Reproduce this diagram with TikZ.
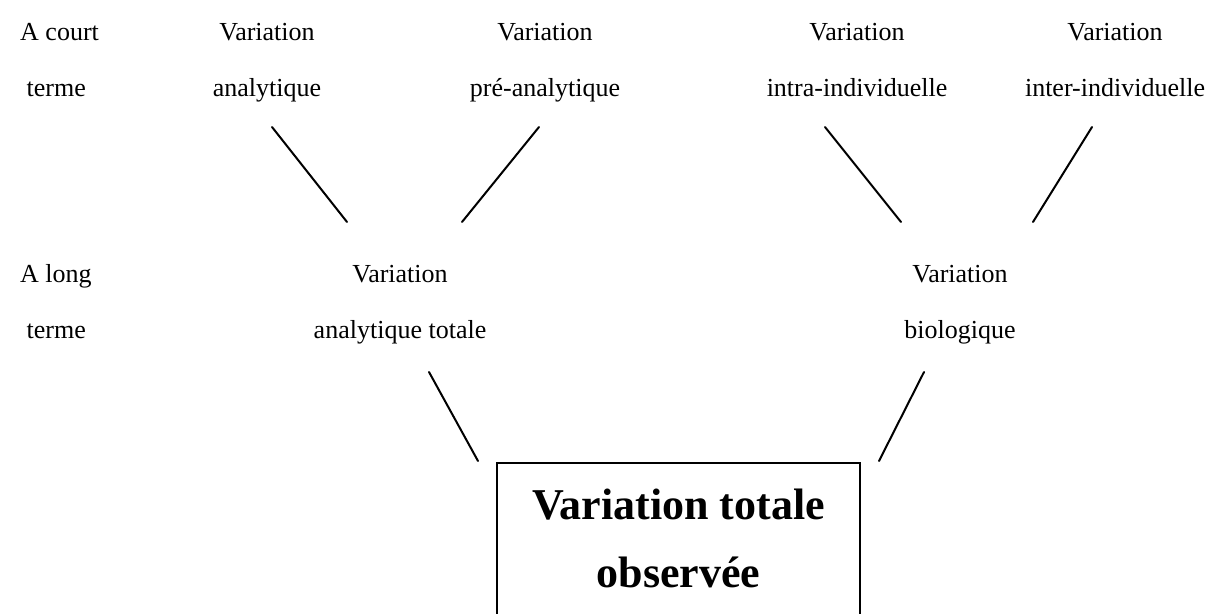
\documentclass[tikz,border=0pt]{standalone}
\usepackage{fontspec}
\setmainfont{Liberation Serif}
\begin{document}
\begin{tikzpicture}[x=1pt,y=-1pt,
  lab/.style={font=\fontsize{26}{56}\selectfont, align=center, inner sep=0pt, anchor=base},
  labl/.style={font=\fontsize{26}{56}\selectfont, align=left, inner sep=0pt, anchor=base west},
  big/.style={font=\fontsize{44}{68}\selectfont\bfseries, align=center, inner sep=0pt, anchor=base},
  conn/.style={line width=2pt, line cap=round},
  totbox/.style={draw, line width=1.5pt, minimum width=363pt, minimum height=180pt, anchor=north, inner sep=0pt}]
\useasboundingbox (0,0) rectangle (1220,613);
% row labels (anchor base = baseline of the last line)
\node[labl] (court) at (20,96) {A court\\\ terme};
\node[labl] (long) at (20,338) {A long\\\ terme};
% short term
\node[lab] (ana) at (267,96) {Variation\\analytique};
\node[lab] (pre) at (545,96) {Variation\\pré-analytique};
\node[lab] (intra) at (857,96) {Variation\\intra-individuelle};
\node[lab] (inter) at (1115,96) {Variation\\inter-individuelle};
% long term
\node[lab] (anatot) at (400,338) {Variation\\analytique totale};
\node[lab] (bio) at (960,338) {Variation\\biologique};
% total box
\node[totbox] (tot) at (678.5,462) {};
\node[big] (tottext) at (678.5,587) {Variation totale\\observée};
% connector end points
\coordinate (a1) at (272,127); \coordinate (a2) at (347,222);
\coordinate (p1) at (539,127); \coordinate (p2) at (462,222);
\coordinate (i1) at (825,127); \coordinate (i2) at (901,222);
\coordinate (e1) at (1092,127); \coordinate (e2) at (1033,222);
\coordinate (t1) at (429,372); \coordinate (t2) at (478,461);
\coordinate (b1) at (924,372); \coordinate (b2) at (879,461);
\draw[conn] (a1) -- (a2);
\draw[conn] (p1) -- (p2);
\draw[conn] (i1) -- (i2);
\draw[conn] (e1) -- (e2);
\draw[conn] (t1) -- (t2);
\draw[conn] (b1) -- (b2);
\end{tikzpicture}
\end{document}
